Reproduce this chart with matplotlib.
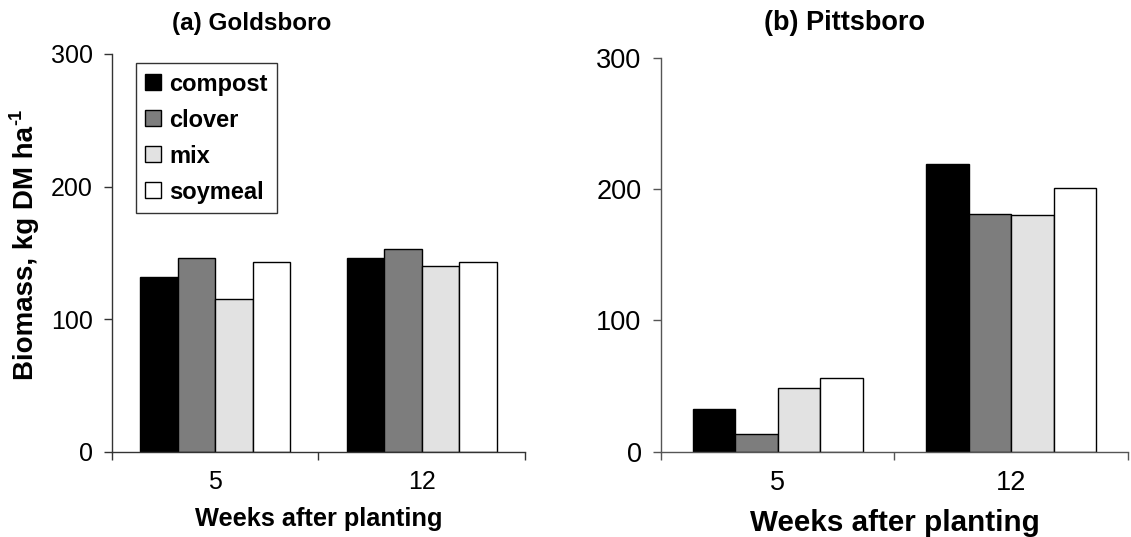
import numpy as np
import matplotlib
matplotlib.use("Agg")
import matplotlib.pyplot as plt

plt.rcParams['font.family'] = ['Liberation Sans', 'DejaVu Sans']

weeks = ["5", "12"]
treatments = ["compost", "clover", "mix", "soymeal"]
goldsboro = {
    "compost": [132, 146],
    "clover": [146, 153],
    "mix": [115, 140],
    "soymeal": [143, 143],
}
pittsboro = {
    "compost": [33, 219],
    "clover": [14, 181],
    "mix": [49, 180],
    "soymeal": [56, 201],
}
fills = {"compost": "#000000", "clover": "#7d7d7d", "mix": "#e2e2e2", "soymeal": "#ffffff"}

fig = plt.figure(figsize=(11.31, 5.37), dpi=100)
ax_a = fig.add_axes([0.0990, 0.1583, 0.3652, 0.7412])
ax_b = fig.add_axes([0.5844, 0.1583, 0.4129, 0.7346])

bar_w = 1 / 5.5
x = np.arange(len(weeks))


def draw_panel(ax, data, tick_size, label_size, spine_color):
    for i, name in enumerate(treatments):
        ax.bar(x + (i - 1.5) * bar_w, data[name], width=bar_w,
               color=fills[name], edgecolor="black", linewidth=1.0, label=name)
    ax.set_xlim(-0.5, 1.5)
    ax.set_ylim(0, 300)
    ax.set_yticks([0, 100, 200, 300])
    ax.set_xticks(x)
    ax.set_xticklabels(weeks)
    ax.set_xticks([-0.5, 0.5, 1.5], minor=True)
    ax.tick_params(axis="x", which="major", length=0, pad=13, labelsize=tick_size)
    ax.tick_params(axis="x", which="minor", length=6, width=1, direction="out",
                   color=spine_color)
    ax.tick_params(axis="y", length=6, width=1, direction="out", pad=8,
                   labelsize=tick_size, color=spine_color)
    for side in ("top", "right"):
        ax.spines[side].set_visible(False)
    for side in ("left", "bottom"):
        ax.spines[side].set_color(spine_color)
        ax.spines[side].set_linewidth(1.0)
    ax.set_xlabel("Weeks after planting", fontsize=label_size,
                  fontweight="bold", labelpad=9)


draw_panel(ax_a, goldsboro, 18, 18.3, "#333333")
draw_panel(ax_b, pittsboro, 19.5, 21.3, "#555555")

fig.text(0.2228, 0.957, "(a) Goldsboro", ha="center", va="center",
         fontsize=17.5, fontweight="bold")
fig.text(0.747, 0.957, "(b) Pittsboro", ha="center", va="center",
         fontsize=19.5, fontweight="bold")

# y label with a hyphen superscript drawn as its own text
ylab = fig.text(0.023, 0.292, "Biomass, kg DM ha", rotation=90,
                ha="center", va="bottom", fontsize=20, fontweight="bold")
fig.canvas.draw()
bb = ylab.get_window_extent().transformed(fig.transFigure.inverted())
fig.text(0.023 - 0.008, bb.y1 + 0.002, "-1", rotation=90,
         ha="center", va="bottom", fontsize=13, fontweight="bold")

leg = ax_a.legend(loc="upper left", bbox_to_anchor=(0.058, 0.977),
                  borderaxespad=0, frameon=True, fancybox=False,
                  prop={"weight": "bold", "size": 17},
                  handlelength=0.65, handleheight=0.65, handletextpad=0.35,
                  labelspacing=0.55, borderpad=0.4)
leg.get_frame().set_edgecolor("black")
leg.get_frame().set_linewidth(1.0)

fig.savefig("out.png", dpi=100)
